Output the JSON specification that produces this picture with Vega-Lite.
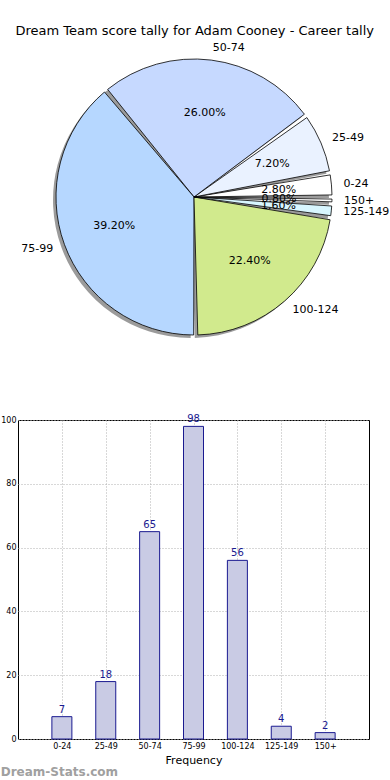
{
  "$schema": "https://vega.github.io/schema/vega-lite/v6.json",
  "padding": {"left": 0, "top": 25, "right": 0, "bottom": 0},
  "background": "white",
  "title": {"text": "Dream Team score tally for Adam Cooney - Career tally", "font": "DejaVu Sans", "fontSize": 13, "fontWeight": "normal", "color": "#000", "anchor": "middle", "offset": 4},
  "config": {
    "view": {"stroke": null},
    "font": "DejaVu Sans"
  },
  "datasets": {
    "tally": [
      {"bin": "0-24", "count": 7, "i": 0},
      {"bin": "25-49", "count": 18, "i": 1},
      {"bin": "50-74", "count": 65, "i": 2},
      {"bin": "75-99", "count": 98, "i": 3},
      {"bin": "100-124", "count": 56, "i": 4},
      {"bin": "125-149", "count": 4, "i": 5},
      {"bin": "150+", "count": 2, "i": 6}
    ]
  },
  "bounds": "flush",
  "spacing": 70,
  "vconcat": [
    {
      "width": 352,
      "height": 306,
      "data": {"name": "tally"},
      "transform": [
        {"joinaggregate": [{"op": "sum", "field": "count", "as": "total"}]},
        {"calculate": "datum.count / datum.total", "as": "pct"}
      ],
      "encoding": {
        "theta": {"field": "count", "type": "quantitative", "stack": true, "scale": {"range": [1.5707963, -4.712389]}},
        "order": {"field": "i", "type": "quantitative"}
      },
      "layer": [
        {"mark": {"type": "arc", "outerRadius": 138, "padAngle": 0.03, "fill": "#7a7a7a", "opacity": 0.75, "xOffset": -3, "yOffset": 3}},
        {"mark": {"type": "arc", "outerRadius": 138, "padAngle": 0.03, "stroke": "#000", "strokeWidth": 0.8},
         "encoding": {"color": {"field": "bin", "type": "nominal", "legend": null,
           "scale": {"domain": ["0-24", "25-49", "50-74", "75-99", "100-124", "125-149", "150+"],
                     "range": ["#ffffff", "#eaf2ff", "#c6d9ff", "#b6d7ff", "#d1ea8d", "#d8f6ff", "#ffffff"]}}}},
        {"mark": {"type": "text", "radius": 150, "align": {"expr": "datum.bin === '75-99' ? 'right' : 'left'"}, "baseline": "middle", "fontSize": 11, "font": "DejaVu Sans", "color": "#000"},
         "encoding": {"text": {"field": "bin", "type": "nominal"}}},
        {"mark": {"type": "text", "radius": 85, "align": "center", "baseline": "middle", "fontSize": 11, "font": "DejaVu Sans", "color": "#000"},
         "encoding": {"text": {"field": "pct", "type": "quantitative", "format": ".2%"}}}
      ]
    },
    {
      "width": 351,
      "height": 319,
      "data": {"name": "tally"},
      "view": {"stroke": "#000", "strokeWidth": 1},
      "title": {"text": "Dream-Stats.com", "orient": "bottom", "anchor": "start", "frame": "bounds", "font": "DejaVu Sans", "fontSize": 12, "fontWeight": "bold", "color": "#a0a0a0", "offset": 2},
      "encoding": {
        "x": {"field": "bin", "type": "nominal", "sort": ["0-24", "25-49", "50-74", "75-99", "100-124", "125-149", "150+"],
              "scale": {"type": "point", "padding": 1},
              "axis": {"title": "Frequency", "titleFontSize": 11, "titleFontWeight": "normal", "titleColor": "#000", "titlePadding": 4, "labelAngle": 0, "labelFontSize": 8, "labelColor": "#000", "labelPadding": 3, "ticks": false, "domain": false, "grid": true, "gridDash": [1, 2], "gridColor": "#b0b0b0"}},
        "y": {"field": "count", "type": "quantitative", "scale": {"domain": [0, 100]},
              "axis": {"title": null, "values": [0, 20, 40, 60, 80, 100], "labelFontSize": 8, "labelColor": "#000", "labelPadding": 2, "ticks": false, "domain": false, "grid": true, "gridDash": [1, 2], "gridColor": "#b0b0b0", "minExtent": 17, "maxExtent": 17}}
      },
      "layer": [
        {"mark": {"type": "bar", "size": 20, "fill": "#c9cbe4", "stroke": "#1a1a90", "strokeWidth": 1}},
        {"mark": {"type": "text", "baseline": "bottom", "dy": -2, "fontSize": 10, "font": "DejaVu Sans", "color": "#1a1a90"},
         "encoding": {"text": {"field": "count", "type": "quantitative"}}}
      ]
    }
  ]
}
